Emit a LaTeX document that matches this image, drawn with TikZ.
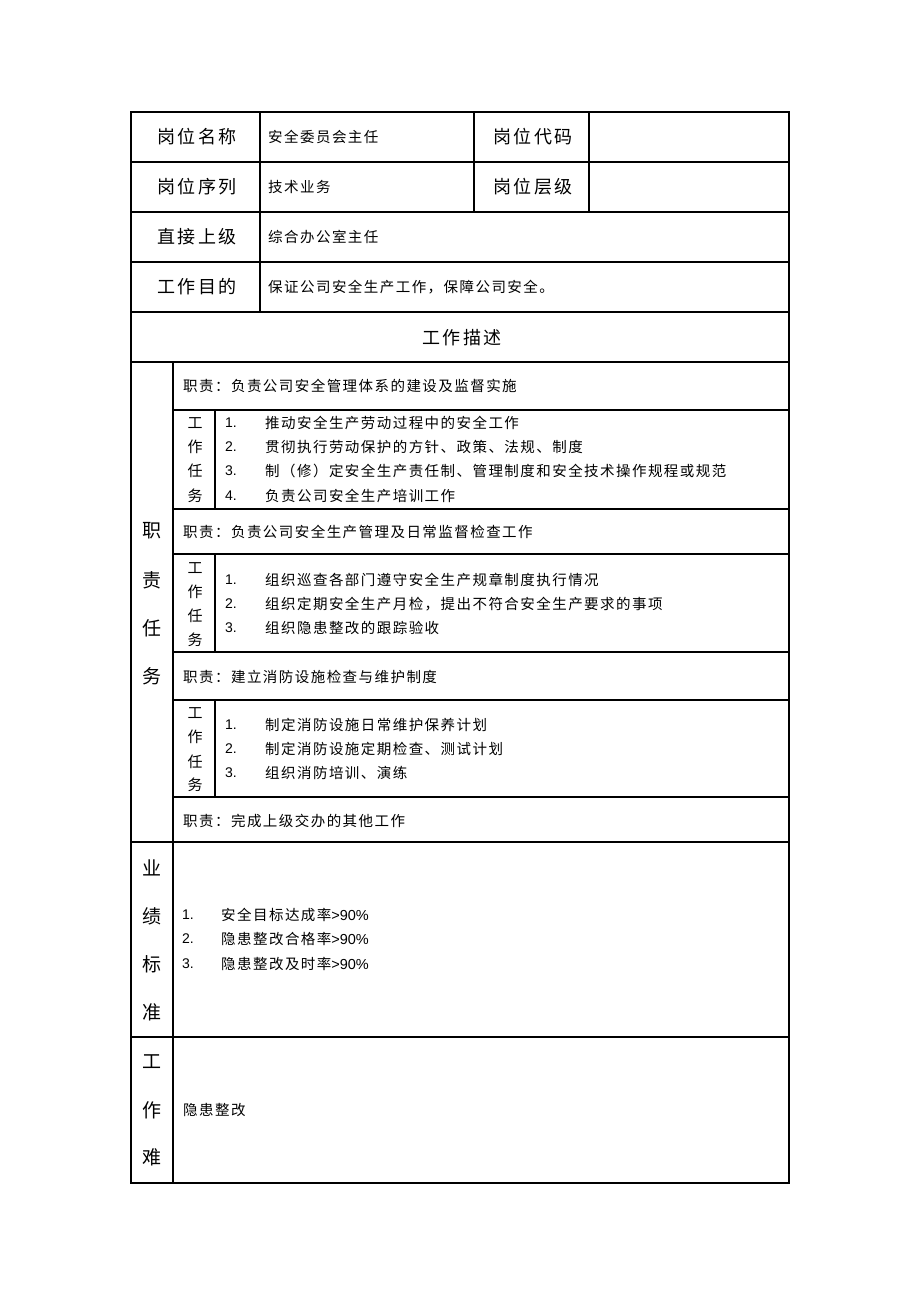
\documentclass[tikz,border=0pt]{standalone}
\usepackage{fontspec}
\setmainfont{Liberation Sans}
\newfontfamily\cjk[LetterSpace=10]{Noto Sans CJK SC}
\newfontfamily\cjkb[LetterSpace=14]{Noto Sans CJK SC}
\begin{document}
\begin{tikzpicture}[x=1pt,y=-1pt,
  grid/.style={line width=1.3pt,black},
  outer/.style={line width=1.8pt,black},
  lbl/.style={inner sep=0pt,font=\cjkb\fontsize{18}{20}\selectfont},
  val/.style={inner sep=0pt,anchor=west,font=\cjk\fontsize{14.5}{16}\selectfont},
  num/.style={inner sep=0pt,anchor=west,font=\fontsize{14}{16}\selectfont},
  vch/.style={inner sep=0pt,font=\cjk\fontsize{15}{16}\selectfont},
  bch/.style={inner sep=0pt,font=\cjk\fontsize{19}{20}\selectfont}]
\useasboundingbox (0,0) rectangle (920,1302);
% grid
\draw[grid] (131,162) -- (789,162);
\draw[grid] (131,212) -- (789,212);
\draw[grid] (131,262) -- (789,262);
\draw[grid] (131,312) -- (789,312);
\draw[grid] (131,362) -- (789,362);
\draw[grid] (131,842) -- (789,842);
\draw[grid] (131,1037) -- (789,1037);
\draw[grid] (260,112) -- (260,312);
\draw[grid] (474,112) -- (474,212);
\draw[grid] (589,112) -- (589,212);
\draw[grid] (173,362) -- (173,1183);
\foreach \yy in {410,509,554,652,700,797} \draw[grid] (173,\yy) -- (789,\yy);
\draw[grid] (215,410) -- (215,509);
\draw[grid] (215,554) -- (215,652);
\draw[grid] (215,700) -- (215,797);
\draw[outer] (131,112) rectangle (789,1183);
% header rows
\node[lbl] (l1) at (197,137) {岗位名称};
\node[val] (v1) at (268,137) {安全委员会主任};
\node[lbl] (l2) at (533,137) {岗位代码};
\node[lbl] (l3) at (197,187) {岗位序列};
\node[val] (v3) at (268,187) {技术业务};
\node[lbl] (l4) at (533,187) {岗位层级};
\node[lbl] (l5) at (197,237) {直接上级};
\node[val] (v5) at (268,237) {综合办公室主任};
\node[lbl] (l6) at (197,287) {工作目的};
\node[val] (v6) at (268,287) {保证公司安全生产工作，保障公司安全。};
\node[lbl] (ms) at (462,338) {工作描述};
% big left labels
\node[bch] (b1) at (152,531) {职};
\node[bch] (b2) at (152,580) {责};
\node[bch] (b3) at (152,628) {任};
\node[bch] (b4) at (152,676) {务};
\node[bch] (p1) at (152,868) {业};
\node[bch] (p2) at (152,916) {绩};
\node[bch] (p3) at (152,964) {标};
\node[bch] (p4) at (152,1012) {准};
\node[bch] (d1) at (152,1062) {工};
\node[bch] (d2) at (152,1110) {作};
\node[bch] (d3) at (152,1157) {难};
% duty 1
\node[val] (z1) at (183,386) {职责：负责公司安全管理体系的建设及监督实施};
\node[vch] (a1) at (195,423) {工};
\node[vch] (a2) at (195,447) {作};
\node[vch] (a3) at (195,471) {任};
\node[vch] (a4) at (195,496) {务};
\node[num] (n11) at (225,423) {1.};
\node[val] (t11) at (265,423) {推动安全生产劳动过程中的安全工作};
\node[num] (n12) at (225,447) {2.};
\node[val] (t12) at (265,447) {贯彻执行劳动保护的方针、政策、法规、制度};
\node[num] (n13) at (225,471) {3.};
\node[val] (t13) at (265,471) {制（修）定安全生产责任制、管理制度和安全技术操作规程或规范};
\node[num] (n14) at (225,496) {4.};
\node[val] (t14) at (265,496) {负责公司安全生产培训工作};
% duty 2
\node[val] (z2) at (183,532) {职责：负责公司安全生产管理及日常监督检查工作};
\node[vch] (c1) at (195,568) {工};
\node[vch] (c2) at (195,592) {作};
\node[vch] (c3) at (195,616) {任};
\node[vch] (c4) at (195,640) {务};
\node[num] (n21) at (225,580) {1.};
\node[val] (t21) at (265,580) {组织巡查各部门遵守安全生产规章制度执行情况};
\node[num] (n22) at (225,604) {2.};
\node[val] (t22) at (265,604) {组织定期安全生产月检，提出不符合安全生产要求的事项};
\node[num] (n23) at (225,628) {3.};
\node[val] (t23) at (265,628) {组织隐患整改的跟踪验收};
% duty 3
\node[val] (z3) at (183,677) {职责：建立消防设施检查与维护制度};
\node[vch] (e1) at (195,713) {工};
\node[vch] (e2) at (195,737) {作};
\node[vch] (e3) at (195,762) {任};
\node[vch] (e4) at (195,785) {务};
\node[num] (n31) at (225,725) {1.};
\node[val] (t31) at (265,725) {制定消防设施日常维护保养计划};
\node[num] (n32) at (225,749) {2.};
\node[val] (t32) at (265,749) {制定消防设施定期检查、测试计划};
\node[num] (n33) at (225,773) {3.};
\node[val] (t33) at (265,773) {组织消防培训、演练};
% duty 4
\node[val] (z4) at (183,821) {职责：完成上级交办的其他工作};
% performance
\node[num] (q1) at (182,915) {1.};
\node[val] (r1) at (221,915) {安全目标达成率\fontspec{Liberation Sans}>90\%};
\node[num] (q2) at (182,939) {2.};
\node[val] (r2) at (221,939) {隐患整改合格率\fontspec{Liberation Sans}>90\%};
\node[num] (q3) at (182,964) {3.};
\node[val] (r3) at (221,964) {隐患整改及时率\fontspec{Liberation Sans}>90\%};
% difficulty
\node[val] (h1) at (183,1110) {隐患整改};
\end{tikzpicture}
\end{document}
